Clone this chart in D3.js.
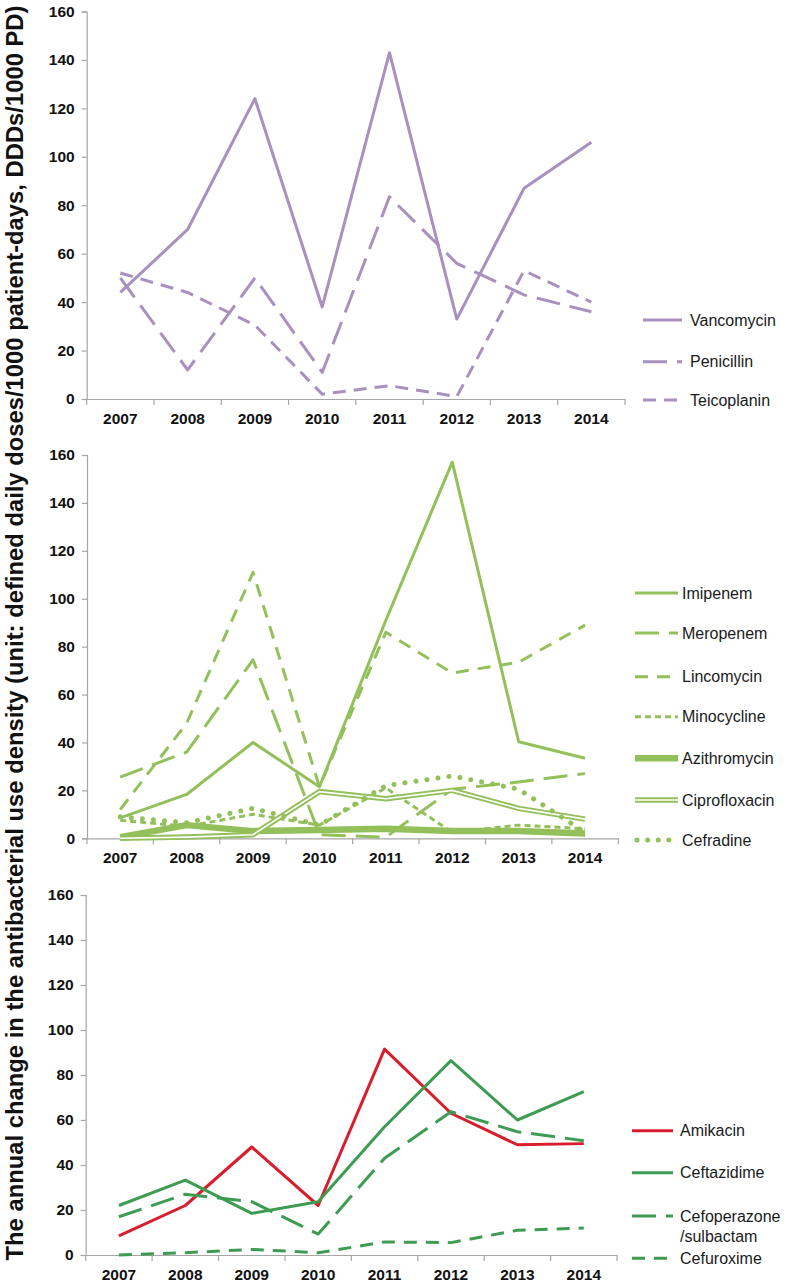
<!DOCTYPE html>
<html><head><meta charset="utf-8">
<script src="https://cdn.jsdelivr.net/npm/d3@7"></script>
<style>
html,body{margin:0;padding:0;background:#fff;}
svg{display:block;font-family:"Liberation Sans",Arial,sans-serif;}
</style></head>
<body>
<svg id="chart" width="788" height="1285"></svg>
<script>
// ---- data ----
const years = ["2007","2008","2009","2010","2011","2012","2013","2014"];
const yTicks = [0,20,40,60,80,100,120,140,160];
const yTitle = "The annual change in the antibacterial use density (unit: defined daily doses/1000 patient-days, DDDs/1000 PD)";

const vancomycin  = [44,70,124,38,143,33,87,106];
const penicillin  = [50,12,50,11,83.5,56,43,36];
const teicoplanin = [52,44,30.5,2,5.5,1,53,40];

const imipenem      = [8.5,18.3,40,21.5,91,157,40.3,33.4];
const meropenem     = [25.5,36,74.5,1.5,0.5,20.5,23.5,27];
const lincomycin    = [12,48,111,21.5,86,69,73.5,89];
const minocycline   = [7.5,5,10,5.5,21,2.5,5.5,4];
const azithromycin  = [0.5,5.5,3,3.5,4,3,3,2];
const ciprofloxacin = [0,0.5,1.5,19.5,16.5,20,12.5,8];
const cefradine     = [9,6.5,12.5,5.5,22,26,20.5,2.5];

const amikacin     = [8.5,22,48,22,91.5,63,49,49.5];
const ceftazidime  = [22,33.3,18.5,23.7,57,86.4,60,72.6];
const cefoperazone = [17,27,23.7,9.3,43,63.7,54.8,50.8];
const cefuroxime   = [0,1,2.5,1,5.8,5.5,11,12];

// ---- styles / layout ----
const purple = "#a890bf", lgreen = "#93c05a", dgreen = "#3e9c52", red = "#d81e2c";

const panels = [
  { x0:86.7, x1:625, y0:399, y1:11.5, legX:643, legLen:39, legTextX:690,
    legY:[320,361.7,400],
    series:[
      {name:"Vancomycin", v:vancomycin, c:purple, w:3, dash:null},
      {name:"Penicillin", v:penicillin, c:purple, w:3, dash:"24,10"},
      {name:"Teicoplanin", v:teicoplanin, c:purple, w:3, dash:"13,8"}
    ]},
  { x0:87, x1:618.3, y0:838.3, y1:455, legX:635, legLen:43, legTextX:682,
    legY:[593,633,676.7,716.7,758.3,800,840],
    series:[
      {name:"Imipenem", v:imipenem, c:lgreen, w:3, dash:null},
      {name:"Meropenem", v:meropenem, c:lgreen, w:3, dash:"24,10"},
      {name:"Lincomycin", v:lincomycin, c:lgreen, w:3, dash:"13,9"},
      {name:"Minocycline", v:minocycline, c:lgreen, w:3, dash:"6,4"},
      {name:"Azithromycin", v:azithromycin, c:lgreen, w:6.5, dash:null},
      {name:"Ciprofloxacin", v:ciprofloxacin, c:lgreen, w:5.5, dash:null, dbl:true},
      {name:"Cefradine", v:cefradine, c:lgreen, w:5, dash:"0.1,11", round:true}
    ]},
  { x0:85.7, x1:617, y0:1255, y1:895, legX:632, legLen:41, legTextX:680,
    legY:[1130.7,1172.7,1216,1258.3],
    series:[
      {name:"Amikacin", v:amikacin, c:red, w:3, dash:null},
      {name:"Ceftazidime", v:ceftazidime, c:dgreen, w:3, dash:null},
      {name:"Cefoperazone\n/sulbactam", v:cefoperazone, c:dgreen, w:3, dash:"24,10"},
      {name:"Cefuroxime", v:cefuroxime, c:dgreen, w:3, dash:"13,9"}
    ]}
];

const svg = d3.select("#chart");
const axisColor = "#a6a6a6";

panels.forEach(p => {
  const x = d3.scaleBand().domain(years).range([p.x0, p.x1]).padding(0);
  const y = d3.scaleLinear().domain([0,160]).range([p.y0, p.y1]);
  const g = svg.append("g");

  // y axis
  const ya = g.append("g").attr("transform",`translate(${p.x0},0)`)
    .call(d3.axisLeft(y).tickValues(yTicks).tickSize(5).tickPadding(7));
  ya.selectAll("path,line").attr("stroke",axisColor).attr("stroke-width",1.2);
  ya.selectAll("text").attr("font-size","15.5px").attr("font-weight","bold")
    .attr("fill","#111").attr("font-family","Liberation Sans, Arial, sans-serif");

  // x axis
  const xa = g.append("g").attr("transform",`translate(0,${p.y0})`)
    .call(d3.axisBottom(x).tickSize(0).tickSizeOuter(0).tickPadding(14));
  xa.select("path").attr("stroke",axisColor).attr("stroke-width",1.2);
  xa.selectAll("text").attr("font-size","15.5px").attr("font-weight","bold")
    .attr("fill","#111").attr("font-family","Liberation Sans, Arial, sans-serif");
  const bounds = years.map(d => x(d)).concat([x(years[years.length-1]) + x.bandwidth()]);
  xa.selectAll("line.bt").data(bounds).enter().append("line").attr("class","bt")
    .attr("x1",d=>d).attr("x2",d=>d).attr("y1",0).attr("y2",6)
    .attr("stroke",axisColor).attr("stroke-width",1.2);

  const line = d3.line().x((d,i)=>x(years[i]) + x.bandwidth()/2).y(d=>y(d));

  p.series.forEach((s, si) => {
    const path = g.append("path").datum(s.v).attr("d", line)
      .attr("fill","none").attr("stroke", s.c).attr("stroke-width", s.w)
      .attr("stroke-linejoin","round")
      .attr("stroke-linecap", s.round ? "round" : "butt");
    if (s.dash) path.attr("stroke-dasharray", s.dash);
    if (s.dbl) g.append("path").datum(s.v).attr("d", line)
      .attr("fill","none").attr("stroke","#fff").attr("stroke-width",1.6);

    // legend
    const ly = p.legY[si];
    const lp = g.append("line").attr("x1",p.legX).attr("x2",p.legX+p.legLen)
      .attr("y1",ly).attr("y2",ly).attr("stroke",s.c).attr("stroke-width",s.w)
      .attr("stroke-linecap", s.round ? "round" : "butt");
    if (s.dash) lp.attr("stroke-dasharray", s.round ? "0.1,10.5" : s.dash);
    if (s.round) lp.attr("x1", p.legX+2);
    if (s.dbl) g.append("line").attr("x1",p.legX).attr("x2",p.legX+p.legLen)
      .attr("y1",ly).attr("y2",ly).attr("stroke","#fff").attr("stroke-width",1.6);
    const lines = s.name.split("\n");
    const t = g.append("text").attr("x",p.legTextX).attr("y",ly)
      .attr("font-size","16px").attr("fill","#1a1a1a");
    lines.forEach((l, li) => {
      t.append("tspan").attr("x",p.legTextX).attr("dy", li===0 ? "0.35em" : "1.25em").text(l);
    });
  });
});

// y title, scaled to span the reference length
const title = svg.append("text").attr("font-weight","bold").attr("fill","#111")
  .attr("font-size","18px").attr("text-anchor","middle")
  .attr("transform","translate(23,633) rotate(-90)").text(yTitle);
const len = title.node().getComputedTextLength();
title.attr("font-size", (18*1255/len).toFixed(2)+"px");
</script>
</body></html>
